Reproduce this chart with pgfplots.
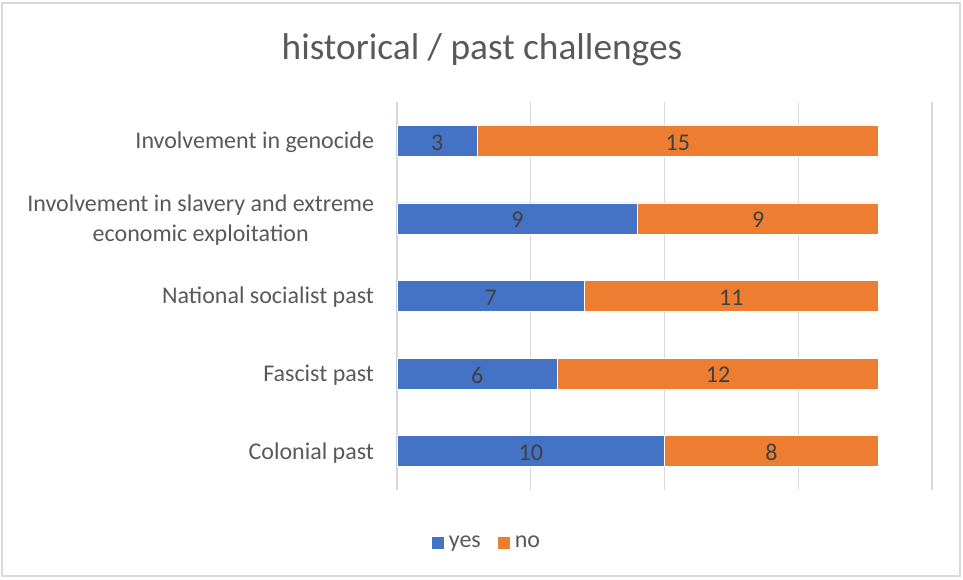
\documentclass[border=0pt]{standalone}
\usepackage{pgfplots}
\pgfplotsset{compat=1.18}
\usepackage{pgfplotstable}
\usepackage{fontspec}
\setmainfont{Carlito}
\definecolor{cblue}{HTML}{4472C4}
\definecolor{corange}{HTML}{ED7D31}
\definecolor{tgray}{HTML}{595959}
\definecolor{dgray}{HTML}{404040}
\definecolor{ggray}{HTML}{D9D9D9}
\pgfplotstableread{
y yes no
0 10 8
1 6 12
2 7 11
3 9 9
4 3 15
}\datatable
\begin{document}
\begin{tikzpicture}
\useasboundingbox (-297.75pt,-67.5pt) rectangle (424.5pt,367.5pt);
\draw[ggray, line width=1pt] (-296.25pt,-64.5pt) rectangle (422.25pt,365.25pt);
\begin{axis}[
  scale only axis,
  width=401.25pt, height=291pt,
  xmin=0, xmax=20,
  ymin=-0.5, ymax=4.5,
  xtick={0,5,...,20}, xticklabels={},
  ytick={0,1,2,3,4},
  yticklabels={Colonial past, Fascist past, National socialist past, {Involvement in slavery and extreme\\economic exploitation}, Involvement in genocide},
  yticklabel style={align=center, font=\fontsize{18}{22}\selectfont, text=tgray, inner sep=0pt, xshift=-17pt, yshift=-1.2pt},
  major tick length=0pt,
  xmajorgrids, major grid style={ggray, line width=0.9pt},
  axis line style={draw=none},
  xbar stacked, bar width=23.25pt,
  nodes near coords,
  point meta=explicit,
  /pgf/number format/assume math mode=true,
  every node near coord/.append style={anchor=center, font=\fontsize{18}{22}\selectfont, text=dgray, yshift=-1.2pt},
  legend style={at={(0.168,-0.136)}, anchor=center, draw=none, legend columns=2, font=\fontsize{18}{22}\selectfont, text=tgray, /tikz/every even column/.append style={column sep=10pt}, /tikz/every odd column/.append style={column sep=1pt}},
  legend image code/.code={\fill[#1] (0pt,-5pt) rectangle (10pt,5pt);},
]
\addplot[fill=cblue, draw=white, line width=0.5pt]
  table[x=yes, y=y, meta=yes] {\datatable};
\addlegendentry{yes}
\addplot[fill=corange, draw=white, line width=0.5pt]
  table[x=no, y=y, meta=no] {\datatable};
\addlegendentry{no}
\end{axis}
\node[text=tgray, font=\fontsize{28}{32}\selectfont] at (63.75pt,330pt) {historical / past challenges};
\end{tikzpicture}
\end{document}
